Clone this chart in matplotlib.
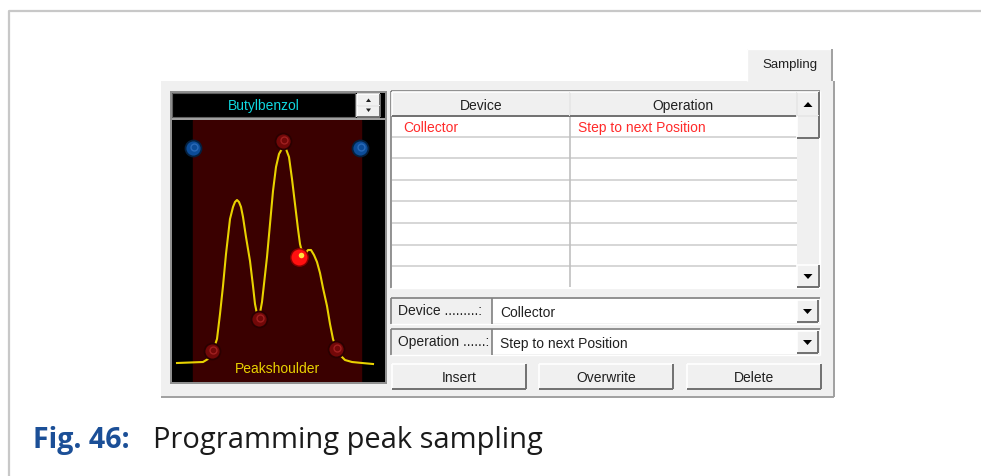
import matplotlib
matplotlib.use("Agg")
import matplotlib.pyplot as plt
from matplotlib.patches import Rectangle, Polygon

# ---------------- data ----------------
compound_name = "Butylbenzol"
curve_label = "Peakshoulder"
curve_x = [5, 31, 36, 40, 43, 45, 48, 51, 54, 58, 61, 63, 65, 67, 69, 71, 74, 78, 81, 83, 85, 86.5,
           88, 90, 92, 95, 98, 101, 104, 107, 111, 114, 117, 120, 123, 126, 128, 130, 133,
           136, 139, 142, 145, 148, 151, 155, 158, 161, 164, 168, 173, 180, 190, 201]
curve_y = [19, 20, 23, 29, 37, 43, 68, 96, 128, 163, 175, 180, 182, 180, 175, 165, 145, 121, 96, 78, 68, 65,
           69, 80, 98, 125, 158, 191, 215, 228, 235, 233, 225, 203, 178, 153, 138, 130, 128,
           132, 132, 127, 120, 109, 94, 76, 58, 43, 34, 27, 22, 20, 19, 18]
window_start, window_end = 21, 189
point_x = [40, 86.5, 111, 164]
point_y = [31, 63, 241, 33]
limit_x = [21, 188]
limit_y = [234, 234]
active_x = [127]
active_y = [125]

table_columns = ["Device", "Operation"]
table_rows = [["Collector", "Step to next Position"]]
n_table_rows = 8
field_labels = ["Device .........:", "Operation ......:"]
field_values = ["Collector", "Step to next Position"]
button_labels = ["Insert", "Overwrite", "Delete"]
tab_label = "Sampling"
caption_num = "Fig. 46:"
caption_text = "Programming peak sampling"

# ---------------- figure ----------------
W, H = 981, 477
fig = plt.figure(figsize=(W / 100, H / 100), dpi=100)
fig.patch.set_facecolor("white")
ax = fig.add_axes([0, 0, 1, 1])
ax.set_xlim(0, W)
ax.set_ylim(H, 0)
ax.axis("off")

UI_FONT = ["Liberation Sans Narrow", "Liberation Sans", "DejaVu Sans"]


def rect(x0, y0, x1, y1, fc="none", ec="none", lw=1.0, z=1):
    ax.add_patch(Rectangle((x0, y0), x1 - x0, y1 - y0, facecolor=fc, edgecolor=ec, lw=lw, zorder=z))


def hline(x0, x1, y, c, lw=1.0, z=2):
    ax.plot([x0, x1], [y, y], color=c, lw=lw, zorder=z, solid_capstyle="butt")


def vline(x, y0, y1, c, lw=1.0, z=2):
    ax.plot([x, x], [y0, y1], color=c, lw=lw, zorder=z, solid_capstyle="butt")


def sunken(x0, y0, x1, y1, fc="white", z=2):
    rect(x0, y0, x1, y1, fc=fc, z=z)
    hline(x0, x1, y0, "#808080", 1.2, z + 0.1)
    vline(x0, y0, y1, "#808080", 1.2, z + 0.1)
    hline(x0, x1, y1, "#ffffff", 1.0, z + 0.1)
    vline(x1, y0, y1, "#ffffff", 1.0, z + 0.1)


def raised(x0, y0, x1, y1, fc="#f0f0f0", z=3):
    rect(x0, y0, x1, y1, fc=fc, z=z)
    hline(x0, x1, y0, "#ffffff", 1.2, z + 0.1)
    vline(x0, y0, y1, "#ffffff", 1.2, z + 0.1)
    hline(x0, x1, y1, "#707070", 1.4, z + 0.1)
    vline(x1, y0, y1, "#707070", 1.4, z + 0.1)


# outer page frame
ax.plot([9, 9, W], [H, 12, 12], color="#c8c8c8", lw=1.6, zorder=1)

# dialog panel and tab
rect(161, 82, 834, 398, fc="#f0f0f0", z=1)
hline(161, 834, 398, "#a0a0a0", 1.4)
vline(834, 82, 398, "#a0a0a0", 1.4)
rect(747, 50, 832, 83, fc="#f0f0f0", z=1.5)
hline(747, 832, 50, "#ffffff", 1.0)
vline(747, 50, 82, "#ffffff", 1.0)
vline(832, 50, 82, "#a0a0a0", 1.4)
ax.text(790, 65, tab_label, ha="center", va="center", fontsize=9.5, family=UI_FONT, color="#202020", zorder=5)

# left chromatogram panel
rect(170, 92, 387, 385, fc="#909090", z=1.6)
rect(172, 94, 385, 383, fc="#000000", z=1.7)
rect(172, 94, 355, 118, fc="#000000", ec="#606060", lw=0.8, z=1.8)
ax.text(264, 106, compound_name, ha="center", va="center", fontsize=10, family=UI_FONT,
        color="#10d8e0", zorder=5)
hline(172, 385, 119.5, "#a0a0a0", 1.5, z=2)
# spinner
raised(357, 95, 380, 106.5, z=3)
raised(357, 106.5, 380, 118, z=3)
ax.add_patch(Polygon([[366, 103], [371, 103], [368.5, 99.5]], closed=True, fc="#202020", ec="none", zorder=5))
ax.add_patch(Polygon([[366, 109.5], [371, 109.5], [368.5, 113]], closed=True, fc="#202020", ec="none", zorder=5))

# chromatogram inset axes (data coordinates)
x0p, x1p, y0p, y1p = 172, 385, 121, 383
cax = fig.add_axes([x0p / W, 1 - y1p / H, (x1p - x0p) / W, (y1p - y0p) / H])
cax.set_facecolor("black")
cax.set_xlim(0, x1p - x0p)
cax.set_ylim(0, y1p - y0p)
cax.set_xticks([])
cax.set_yticks([])
for s in cax.spines.values():
    s.set_visible(False)
cax.axvspan(window_start, window_end, color="#3a0000", zorder=1)
cax.plot(curve_x, curve_y, color="#e8d200", lw=1.5, zorder=3)
cax.plot(point_x, point_y, "o", ms=11.5, mfc="#720808", mec="#2a0000", mew=1.3, zorder=4, linestyle="none")
cax.plot([v + 1 for v in point_x], [v + 1 for v in point_y], "o", ms=5, mfc="none", mec="#a02020",
         mew=1.0, zorder=4.5, linestyle="none")
cax.plot(limit_x, limit_y, "o", ms=11.5, mfc="#0c4c98", mec="#04203f", mew=1.3, zorder=4, linestyle="none")
cax.plot([v + 1 for v in limit_x], [v + 1 for v in limit_y], "o", ms=5, mfc="none", mec="#2a6ab8",
         mew=1.0, zorder=4.5, linestyle="none")
cax.plot(active_x, active_y, "o", ms=12.5, mfc="#ff1010", mec="#8a0000", mew=1.0, zorder=5, linestyle="none")
cax.plot([v + 1.5 for v in active_x], [v + 2 for v in active_y], "o", ms=4, mfc="#ffe040",
         mec="none", zorder=6, linestyle="none")
cax.text(105, 14, curve_label, ha="center", va="center", fontsize=10, family=UI_FONT,
         color="#e8d200", zorder=6)

# ---------------- table ----------------
tx0, tx1, ty0, ty1 = 392, 819, 93, 288
col_div = 569.5
sb_x0 = 797
header_h = 24
row_h = 21.6
sunken(tx0 - 1, ty0 - 1, tx1 + 1, ty1 + 1, fc="white", z=2)
# header
raised(tx0, ty0, col_div, ty0 + header_h, z=3)
raised(col_div, ty0, sb_x0, ty0 + header_h, z=3)
ax.text((tx0 + col_div) / 2, ty0 + header_h / 2 + 1, table_columns[0], ha="center", va="center",
        fontsize=10, family=UI_FONT, color="#202020", zorder=5)
ax.text((col_div + sb_x0) / 2, ty0 + header_h / 2 + 1, table_columns[1], ha="center", va="center",
        fontsize=10, family=UI_FONT, color="#202020", zorder=5)
# grid
for i in range(n_table_rows):
    y = ty0 + header_h + (i + 1) * row_h - 1
    if y < ty1:
        hline(tx0, sb_x0, y, "#d0d0d0", 1.2, z=2.5)
vline(col_div, ty0, ty1, "#c0c0c0", 1.2, z=2.5)
for i, row in enumerate(table_rows):
    yc = ty0 + header_h + row_h * (i + 0.5)
    ax.text(tx0 + 11, yc, row[0], ha="left", va="center", fontsize=10, family=UI_FONT, color="#ff2a2a", zorder=5)
    ax.text(col_div + 9, yc, row[1], ha="left", va="center", fontsize=10, family=UI_FONT, color="#ff2a2a", zorder=5)
# scrollbar
rect(sb_x0, ty0, tx1, ty1, fc="#f0f0f0", z=2.6)
raised(sb_x0, ty0, tx1, ty0 + header_h, z=3)
raised(sb_x0, ty0 + header_h, tx1, ty0 + header_h + row_h, z=3)
raised(sb_x0, ty1 - 22, tx1, ty1, z=3)
cx = (sb_x0 + tx1) / 2
ax.add_patch(Polygon([[cx - 4.5, ty0 + 15], [cx + 4.5, ty0 + 15], [cx, ty0 + 10]], closed=True, fc="black", ec="none", zorder=5))
ax.add_patch(Polygon([[cx - 4.5, ty1 - 13], [cx + 4.5, ty1 - 13], [cx, ty1 - 8]], closed=True, fc="black", ec="none", zorder=5))

# ---------------- fields ----------------
field_rows = [(299, 325), (330, 356)]
for (fy0, fy1), lab, val in zip(field_rows, field_labels, field_values):
    sunken(391, fy0, 820, fy1, fc="#f0f0f0", z=2)
    rect(492, fy0 + 1, 819, fy1 - 1, fc="white", z=2.2)
    vline(492, fy0, fy1, "#808080", 1.2, z=2.3)
    ax.text(398, (fy0 + fy1) / 2 - 1, lab, ha="left", va="center", fontsize=10, family=UI_FONT, color="#202020", zorder=5)
    ax.text(500, (fy0 + fy1) / 2 + 1, val, ha="left", va="center", fontsize=10, family=UI_FONT, color="#202020", zorder=5)
    raised(797, fy0 + 2, 818, fy1 - 2, z=3)
    bx = (797 + 818) / 2
    by = (fy0 + fy1) / 2
    ax.add_patch(Polygon([[bx - 4.5, by - 2], [bx + 4.5, by - 2], [bx, by + 3]], closed=True, fc="black", ec="none", zorder=5))

# ---------------- buttons ----------------
button_x = [(392, 526), (539, 673), (687, 821)]
for (bx0, bx1), lab in zip(button_x, button_labels):
    raised(bx0, 365, bx1, 390, z=3)
    ax.text((bx0 + bx1) / 2, 378, lab, ha="center", va="center", fontsize=10, family=UI_FONT, color="#202020", zorder=5)

# ---------------- caption ----------------
CAP_FONT = ["Open Sans", "Lato", "DejaVu Sans"]
ax.text(33, 441, caption_num, ha="left", va="center", fontsize=20.5, fontweight="bold",
        family=CAP_FONT, color="#1b4f97", zorder=5)
ax.text(153, 441, caption_text, ha="left", va="center", fontsize=20.9, family=CAP_FONT,
        color="#1a1a1a", zorder=5)

fig.savefig("out.png", dpi=100, facecolor="white")
